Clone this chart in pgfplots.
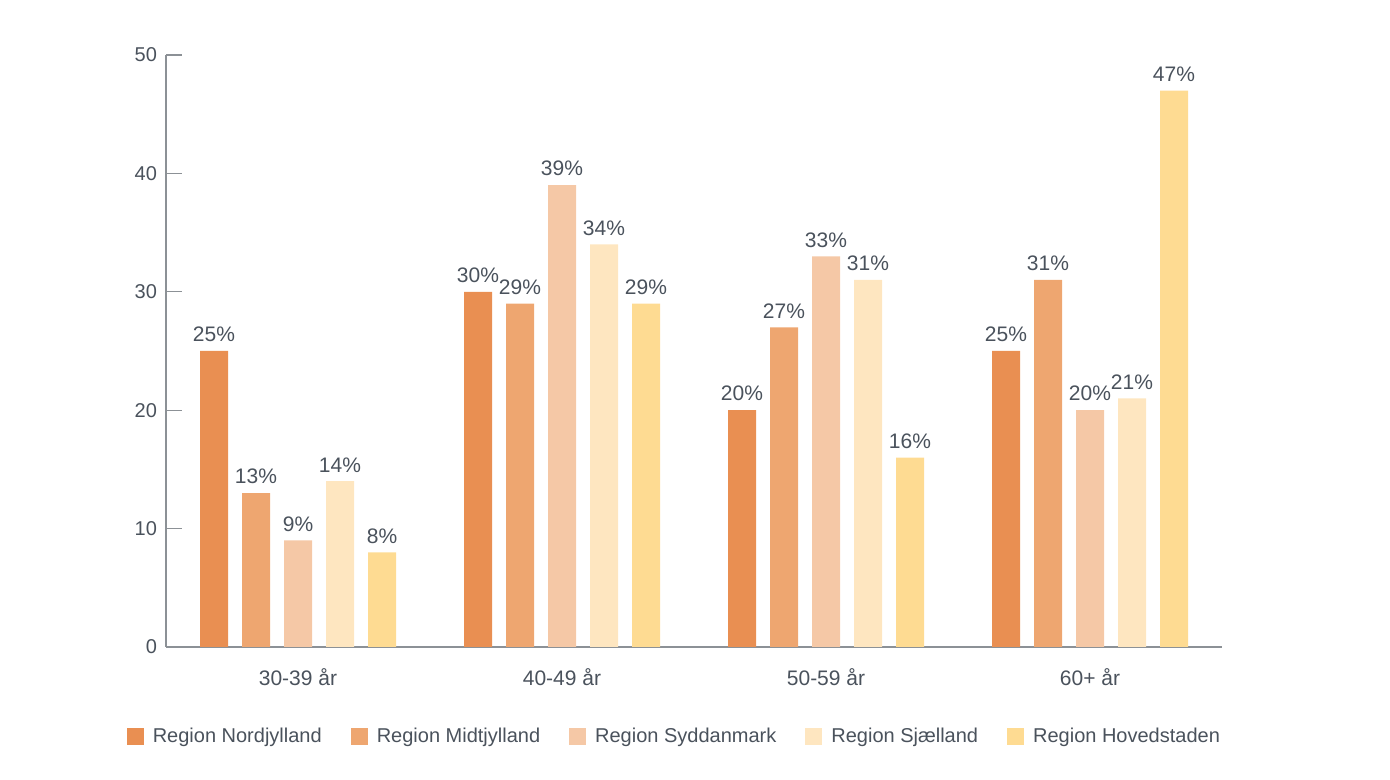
\documentclass[border=0pt]{standalone}
\usepackage{fontspec}
\setmainfont{Liberation Sans}
\usepackage{pgfplots}
\pgfplotsset{compat=1.18}

\definecolor{nord}{RGB}{233,143,82}
\definecolor{midt}{RGB}{238,166,112}
\definecolor{syd}{RGB}{245,200,166}
\definecolor{sjae}{RGB}{254,230,192}
\definecolor{hoved}{RGB}{254,219,146}
\definecolor{txt}{RGB}{74,82,92}
\definecolor{axln}{RGB}{140,145,150}

\begin{document}
\begin{tikzpicture}
\path[use as bounding box] (-83pt,-66.5pt) rectangle (612pt,323.5pt);
\begin{axis}[
  at={(0,0)}, anchor=south west,
  scale only axis,
  width=528pt, height=296pt,
  clip=false,
  ybar=7pt, bar width=14pt,
  ymin=0, ymax=50, ytick={0,10,...,50},
  xmin=-0.5, xmax=3.5,
  xtick={0,1,2,3},
  xticklabels={30-39 år, 40-49 år, 50-59 år, 60+ år},
  axis lines*=left,
  axis line style={axln, line width=0.6pt},
  major x tick style={draw=none},
  major y tick style={axln, line width=0.6pt},
  ytick align=inside,
  major tick length=8pt,
  tick label style={font=\fontsize{10}{12}\selectfont, text=txt},
  yticklabel style={xshift=-1pt},
  xticklabel style={font=\fontsize{10.5}{12}\selectfont, yshift=0.5pt},
  /pgf/number format/assume math mode=true,
  nodes near coords={\pgfmathprintnumber\pgfplotspointmeta\%},
  every node near coord/.append style={font=\fontsize{10.5}{12}\selectfont, text=txt, yshift=1pt},
  legend style={draw=none, at={(-0.0432,-0.152)}, anchor=west,
    legend columns=-1, font=\fontsize{10}{12}\selectfont, text=txt,
    /tikz/every odd column/.append style={column sep=2.5pt},
    /tikz/every even column/.append style={column sep=12.5pt}},
  legend image code/.code={\fill[#1] (0pt,-4.25pt) rectangle (8.5pt,4.25pt);},
]
\addplot[fill=nord, draw=none] coordinates {(0,25) (1,30) (2,20) (3,25)};
\addlegendentry{Region Nordjylland}
\addplot[fill=midt, draw=none] coordinates {(0,13) (1,29) (2,27) (3,31)};
\addlegendentry{Region Midtjylland}
\addplot[fill=syd, draw=none] coordinates {(0,9) (1,39) (2,33) (3,20)};
\addlegendentry{Region Syddanmark}
\addplot[fill=sjae, draw=none] coordinates {(0,14) (1,34) (2,31) (3,21)};
\addlegendentry{Region Sjælland}
\addplot[fill=hoved, draw=none] coordinates {(0,8) (1,29) (2,16) (3,47)};
\addlegendentry{Region Hovedstaden}
\end{axis}
\end{tikzpicture}
\end{document}
